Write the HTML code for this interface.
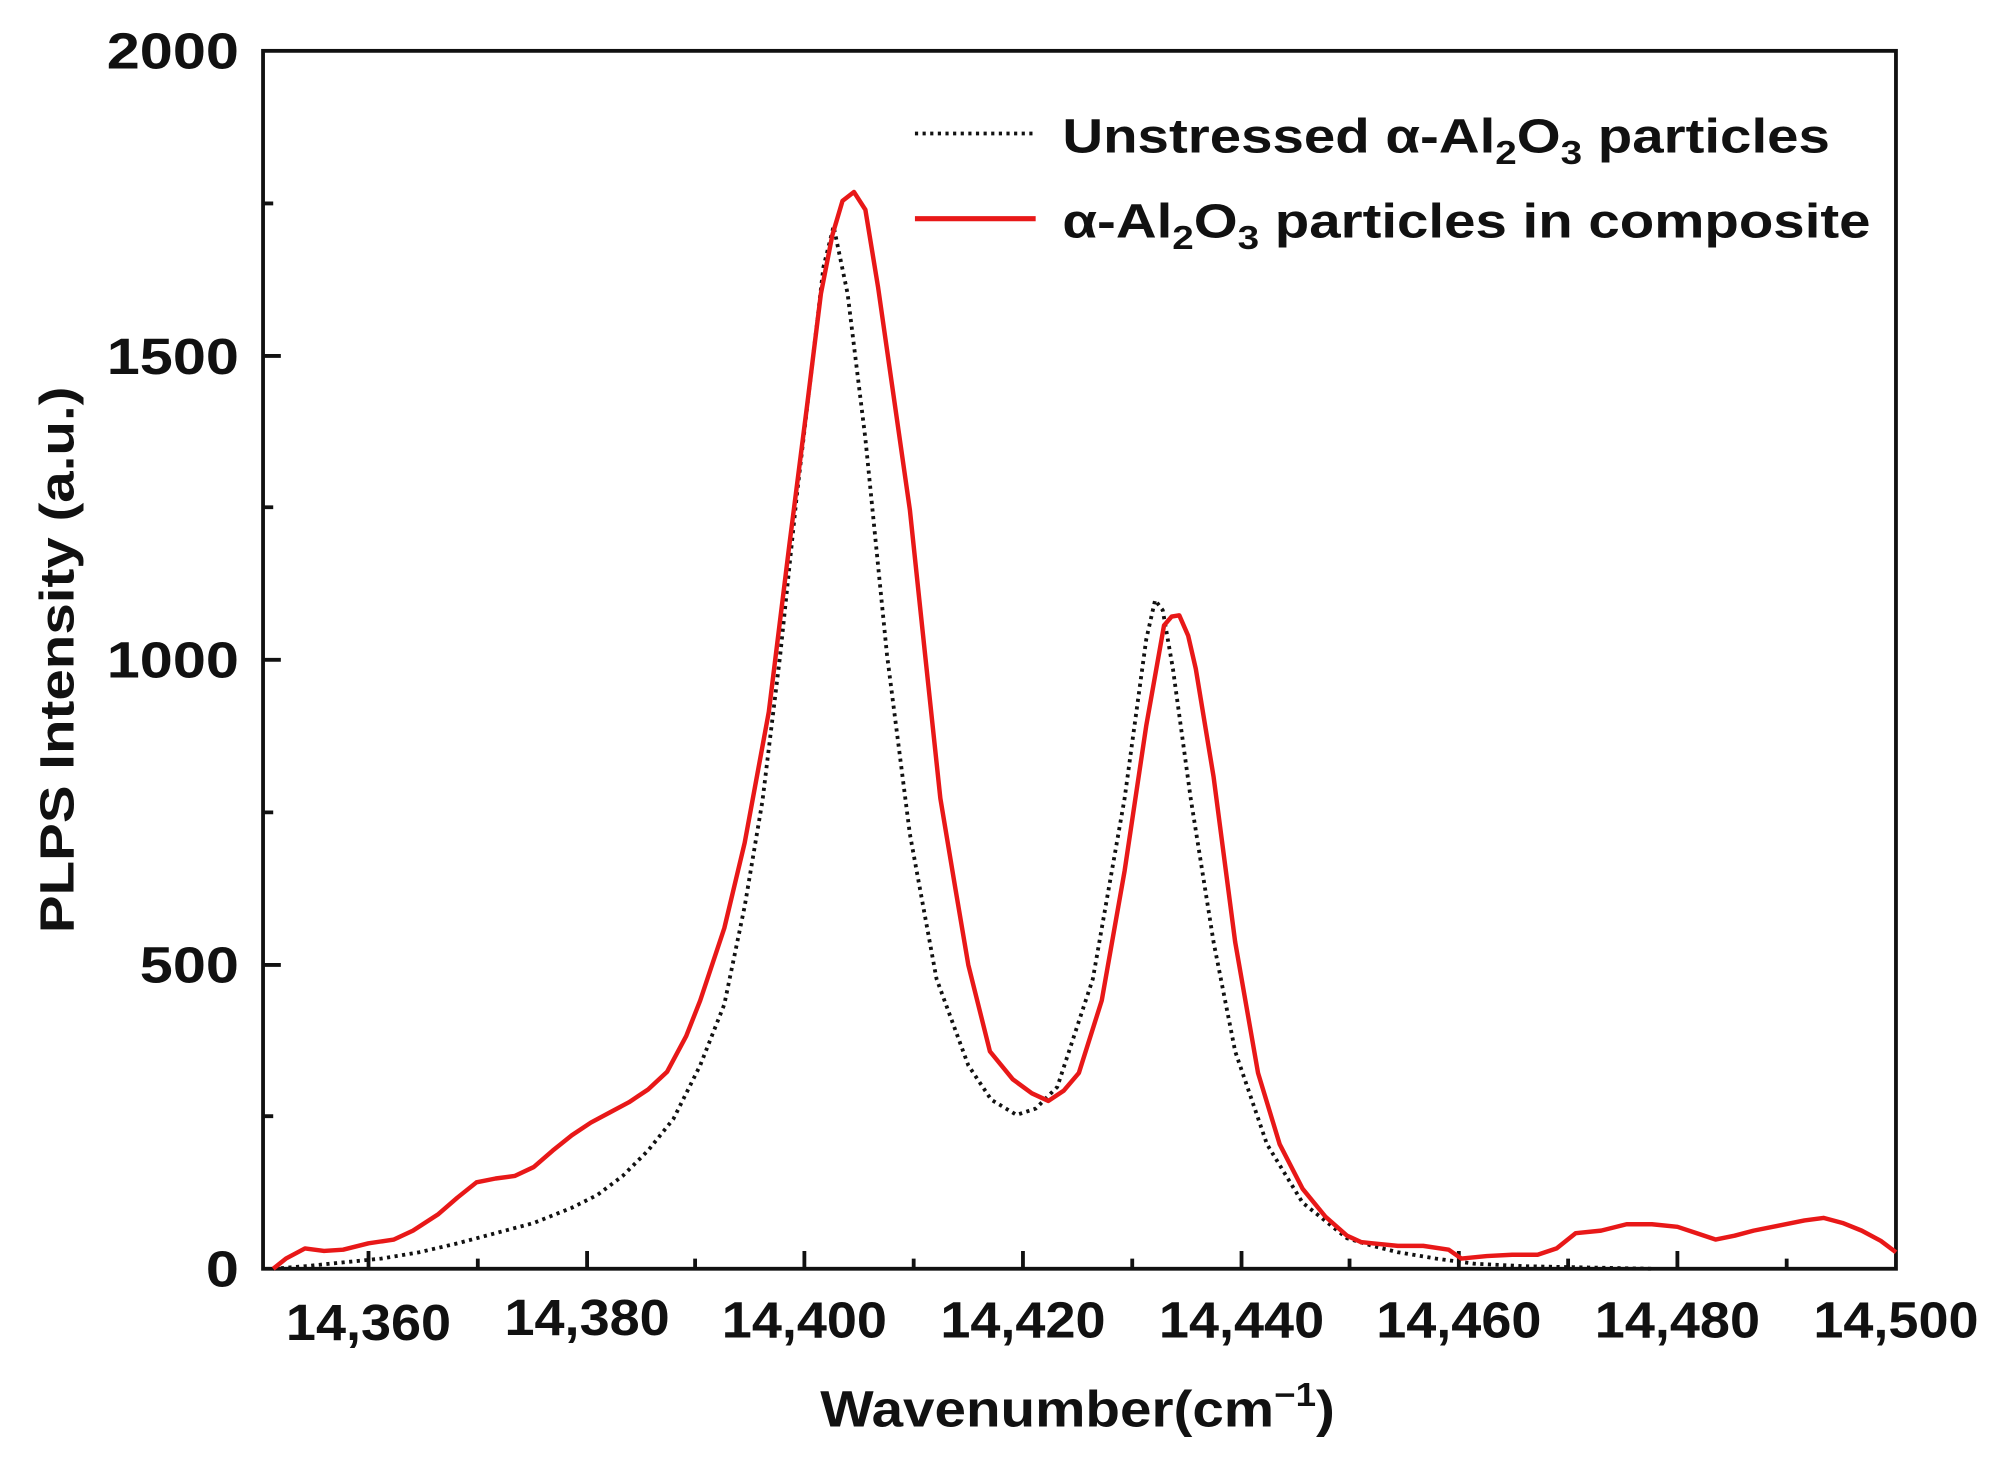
<!DOCTYPE html>
<html><head><meta charset="utf-8"><style>
html,body{margin:0;padding:0;background:#fff;}
svg{display:block;}
text{font-family:"Liberation Sans",sans-serif;font-weight:bold;fill:#111;}
</style></head><body>
<svg width="1990" height="1462" viewBox="0 0 1566 1150" preserveAspectRatio="none" xmlns="http://www.w3.org/2000/svg">
<rect width="1566" height="1150" fill="#fff"/>
<g stroke="#111" stroke-width="3" fill="none">
<rect x="207" y="40" width="1285" height="958"/>
<path d="M290 998v-14M462 998v-14M633 998v-14M805 998v-14M977 998v-14M1148 998v-14M1320 998v-14"/>
<path d="M376 998v-8M547 998v-8M719 998v-8M891 998v-8M1062 998v-8M1234 998v-8M1406 998v-8"/>
<path d="M207 759h14M207 519h14M207 280h14M207 878h8M207 639h8M207 399h8M207 160h8"/>
</g>
<g font-size="40" text-anchor="end">
<text x="188" y="1012" textLength="26" lengthAdjust="spacingAndGlyphs">0</text>
<text x="188" y="773" textLength="78" lengthAdjust="spacingAndGlyphs">500</text>
<text x="188" y="533" textLength="104" lengthAdjust="spacingAndGlyphs">1000</text>
<text x="188" y="294" textLength="104" lengthAdjust="spacingAndGlyphs">1500</text>
<text x="188" y="54" textLength="104" lengthAdjust="spacingAndGlyphs">2000</text>
</g>
<g font-size="40" text-anchor="middle">
<text x="290" y="1054" textLength="130" lengthAdjust="spacingAndGlyphs">14,360</text>
<text x="462" y="1050" textLength="130" lengthAdjust="spacingAndGlyphs">14,380</text>
<text x="633" y="1052" textLength="130" lengthAdjust="spacingAndGlyphs">14,400</text>
<text x="805" y="1052" textLength="130" lengthAdjust="spacingAndGlyphs">14,420</text>
<text x="977" y="1052" textLength="130" lengthAdjust="spacingAndGlyphs">14,440</text>
<text x="1148" y="1052" textLength="130" lengthAdjust="spacingAndGlyphs">14,460</text>
<text x="1320" y="1052" textLength="130" lengthAdjust="spacingAndGlyphs">14,480</text>
<text x="1492" y="1052" textLength="130" lengthAdjust="spacingAndGlyphs">14,500</text>
</g>
<text x="848" y="1122" font-size="40" text-anchor="middle" textLength="405" lengthAdjust="spacingAndGlyphs">Wavenumber(cm<tspan dy="-16" font-size="26">−1</tspan><tspan dy="16">)</tspan></text>
<text transform="translate(58,519) rotate(-90)" font-size="38" text-anchor="middle" textLength="430" lengthAdjust="spacingAndGlyphs">PLPS Intensity (a.u.)</text>
<path d="M720 105H815" stroke="#111" stroke-width="3" stroke-dasharray="2.5 3.5" fill="none"/>
<path d="M720 172H815" stroke="#e81818" stroke-width="4" fill="none"/>
<text x="836" y="120" font-size="38" textLength="604" lengthAdjust="spacingAndGlyphs">Unstressed α-Al<tspan dy="9" font-size="26">2</tspan><tspan dy="-9">O</tspan><tspan dy="9" font-size="26">3</tspan><tspan dy="-9"> particles</tspan></text>
<text x="836" y="187" font-size="38" textLength="636" lengthAdjust="spacingAndGlyphs">α-Al<tspan dy="9" font-size="26">2</tspan><tspan dy="-9">O</tspan><tspan dy="9" font-size="26">3</tspan><tspan dy="-9"> particles in composite</tspan></text>
<polyline fill="none" stroke="#111" stroke-width="3" stroke-dasharray="2.5 3.5" points="215,998 240,996 270,993 300,990 330,985 360,978 390,970 420,962 450,950 470,940 490,925 510,905 530,880 551,838 570,790 586,713 600,630 614,515 627,390 639,288 648,210 656,178 667,231 681,345 698,515 716,656 737,770 762,838 780,865 800,877 815,872 832,855 860,770 885,628 902,503 909,472 915,480 923,526 937,628 955,741 972,827 997,900 1025,946 1060,974 1080,980 1100,985 1130,990 1160,994 1200,996 1250,997 1300,998"/>
<polyline fill="none" stroke="#e81818" stroke-width="3.5" stroke-linejoin="round" points="215,998 225,990 240,982 255,984 270,983 290,978 310,975 325,968 345,955 360,942 375,930 390,927 405,925 420,918 435,905 450,893 465,883 480,875 495,867 510,857 525,843 540,815 551,787 570,730 586,663 605,560 621,430 635,320 646,231 655,185 663,158 672,151 681,165 691,226 703,310 716,401 728,515 740,628 752,700 762,759 779,827 797,849 812,860 825,866 837,858 849,844 867,787 885,685 902,571 916,492 922,485 928,484 935,500 941,526 955,611 972,741 990,844 1007,900 1025,935 1043,957 1060,972 1071,977 1080,978 1100,980 1120,980 1140,983 1150,990 1170,988 1190,987 1210,987 1225,982 1240,970 1260,968 1280,963 1300,963 1320,965 1335,970 1350,975 1365,972 1380,968 1400,964 1420,960 1435,958 1450,962 1465,968 1480,976 1492,985"/>
</svg>
</body></html>
